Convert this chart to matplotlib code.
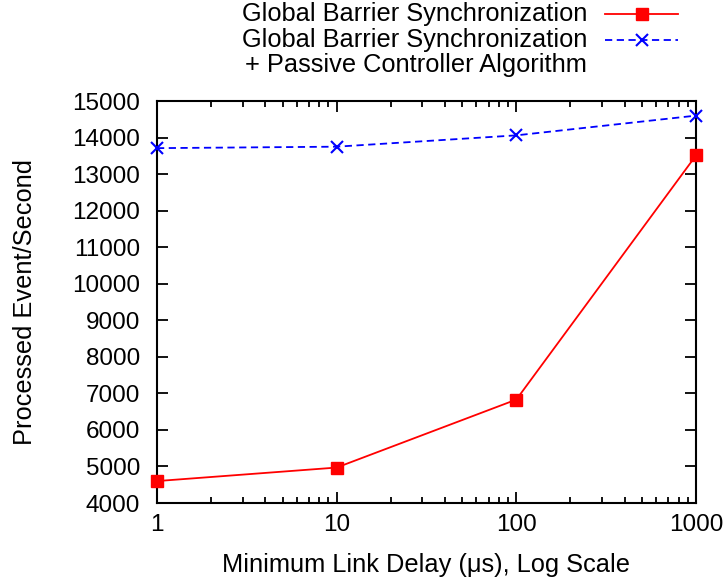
import matplotlib
matplotlib.use("Agg")
import matplotlib.pyplot as plt
from matplotlib.lines import Line2D
from matplotlib.ticker import LogLocator, FixedLocator, NullFormatter

plt.rcParams['font.family'] = ['Liberation Sans', 'DejaVu Sans']

delays = [1, 10, 100, 1000]
barrier = [4600, 4970, 6830, 13510]
barrier_passive = [13710, 13750, 14060, 14600]
yticks = list(range(4000, 15001, 1000))
xticks = [1, 10, 100, 1000]
label1 = "Global Barrier Synchronization"
label2a = "Global Barrier Synchronization"
label2b = "+ Passive Controller Algorithm"

fig = plt.figure(figsize=(7.25, 5.85), dpi=100)
ax = fig.add_axes([157/725, 1-503/585, (696-157)/725, (503-101)/585])

ax.plot(delays, barrier, color='#ff0000', lw=1.3, marker='s', ms=8,
        mec='#ff0000', mfc='#ff0000', clip_on=False, zorder=3)
ax.plot(delays, barrier_passive, color='#0000ff', lw=1.3, ls=(0, (4, 2.5)),
        marker='x', ms=8.5, mew=1.5, clip_on=False, zorder=3)

ax.set_xscale('log')
ax.set_xlim(1, 1000)
ax.set_ylim(4000, 15000)
ax.xaxis.set_major_locator(FixedLocator(xticks))
ax.set_xticklabels([str(v) for v in xticks])
ax.xaxis.set_minor_locator(LogLocator(base=10, subs=range(2, 10)))
ax.xaxis.set_minor_formatter(NullFormatter())
ax.set_yticks(yticks)
ax.set_yticklabels([str(v) for v in yticks])

for s in ax.spines.values():
    s.set_linewidth(1.5)
ax.tick_params(which='both', direction='in', top=True, right=True,
               labelsize=17.5, width=1.3, colors='black')
ax.tick_params(which='major', length=8)
ax.tick_params(axis='x', which='major', pad=8)
ax.tick_params(axis='y', which='major', pad=12)
ax.tick_params(which='minor', length=4)

fs = 18.3
ax.set_xlabel("Minimum Link Delay (\u03bcs), Log Scale", fontsize=fs, va='center')
ax.xaxis.set_label_coords(0.5, -(565-503)/402)
ax.set_ylabel("Processed Event/Second", fontsize=fs, va='center')
ax.yaxis.set_label_coords(-(157-25)/539, 0.5)

# legend (gnuplot style: text right-aligned, sample on the right)
tx = 587/725
fig.text(tx, 1-14/585, label1, ha='right', va='center', fontsize=fs)
fig.text(tx, 1-40/585, label2a, ha='right', va='center', fontsize=fs)
fig.text(tx, 1-65/585, label2b, ha='right', va='center', fontsize=fs)
x0, x1 = 605/725, 678/725
fig.add_artist(Line2D([x0, x1], [1-14/585]*2, transform=fig.transFigure,
                      color='#ff0000', lw=1.3))
fig.add_artist(Line2D([(x0+x1)/2], [1-14/585], transform=fig.transFigure,
                      color='#ff0000', marker='s', ms=8, ls='none'))
fig.add_artist(Line2D([x0, x1], [1-40/585]*2, transform=fig.transFigure,
                      color='#0000ff', lw=1.3, ls=(0, (4, 2.5))))
fig.add_artist(Line2D([(x0+x1)/2], [1-40/585], transform=fig.transFigure,
                      color='#0000ff', marker='x', ms=8.5, mew=1.5, ls='none'))

fig.savefig("out.png", dpi=100)
